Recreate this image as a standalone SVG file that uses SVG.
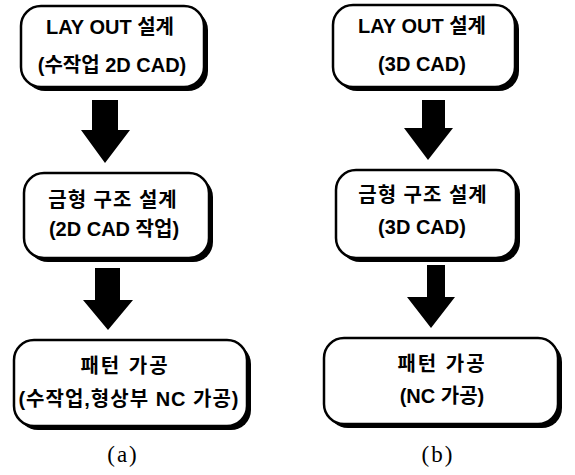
<svg xmlns="http://www.w3.org/2000/svg" width="575" height="475" viewBox="0 0 575 475">
<style>
.sh{fill:#000}
.bx{fill:#fff;stroke:#000;stroke-width:2.5}
.t{font-family:"Liberation Sans","Noto Sans CJK KR",sans-serif;font-weight:bold;font-size:20px;text-anchor:middle;fill:#000}
.cap{font-family:"Liberation Serif","DejaVu Serif",serif;font-size:23px;letter-spacing:2px;text-anchor:middle;fill:#000}
.ar{fill:#000}
</style>
<rect width="575" height="475" fill="#fff"/>
<g id="a1">
<rect class="sh" x="25" y="10" width="183" height="81" rx="20"/>
<rect class="bx" x="21" y="6" width="183" height="81" rx="20"/>
<text class="t" x="110" y="34">LAY OUT 설계</text>
<text class="t" x="112" y="72">(수작업 2D CAD)</text>
</g>
<g id="a2">
<rect class="sh" x="28" y="177" width="185" height="85" rx="20"/>
<rect class="bx" x="24" y="173" width="185" height="85" rx="20"/>
<text class="t" x="113" y="207" letter-spacing="1">금형 구조 설계</text>
<text class="t" x="114" y="236">(2D CAD 작업)</text>
</g>
<g id="a3">
<rect class="sh" x="18" y="344" width="233" height="86" rx="20"/>
<rect class="bx" x="14" y="340" width="233" height="86" rx="20"/>
<text class="t" x="125" y="373" letter-spacing="2">패턴 가공</text>
<text class="t" x="129" y="406" letter-spacing="1">(수작업,형상부 NC 가공)</text>
</g>
<g id="b1">
<rect class="sh" x="337" y="9" width="182" height="82" rx="20"/>
<rect class="bx" x="333" y="5" width="182" height="82" rx="20"/>
<text class="t" x="422" y="33">LAY OUT 설계</text>
<text class="t" x="422" y="71">(3D CAD)</text>
</g>
<g id="b2">
<rect class="sh" x="340" y="174" width="180" height="88" rx="20"/>
<rect class="bx" x="336" y="170" width="180" height="88" rx="20"/>
<text class="t" x="423" y="202" letter-spacing="1">금형 구조 설계</text>
<text class="t" x="422" y="234">(3D CAD)</text>
</g>
<g id="b3">
<rect class="sh" x="328" y="342" width="234" height="86" rx="20"/>
<rect class="bx" x="324" y="338" width="234" height="86" rx="20"/>
<text class="t" x="442" y="371" letter-spacing="2">패턴 가공</text>
<text class="t" x="442" y="403">(NC 가공)</text>
</g>
<g id="connectors">
<path class="ar" d="M92,100 H118 V130 H130 L105,163 L81,130 H92 Z"/>
<path class="ar" d="M95,268 H120 V300 H133 L108,330 L83,300 H95 Z"/>
<path class="ar" d="M422,100 H445 V128 H453 L428,160 L404,128 H422 Z"/>
<path class="ar" d="M427,265 H445 V297 H455 L431,328 L407,297 H427 Z"/>
</g>
<text class="cap" x="123" y="462">(a)</text>
<text class="cap" x="438" y="462">(b)</text>
</svg>
